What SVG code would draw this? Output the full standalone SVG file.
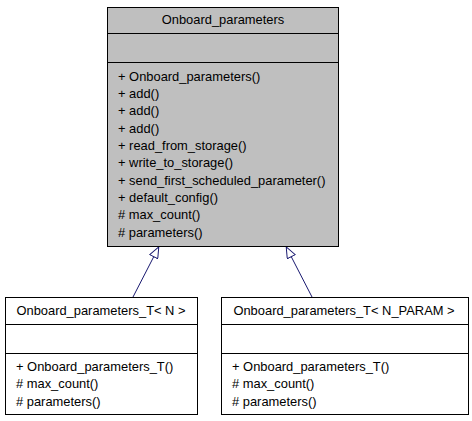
<svg xmlns="http://www.w3.org/2000/svg" width="472" height="421" viewBox="0 0 472 421">
<style>
text{font-family:"Liberation Sans",Arial,Helvetica,sans-serif;font-size:12.9px;fill:#000}
.t{text-anchor:middle}
.box{stroke:#000;stroke-width:1}
.ln{stroke:#000;stroke-width:1}
.edge{stroke:#191970;stroke-width:1;fill:none;marker-end:url(#inh)}
</style>
<defs>
<marker id="inh" viewBox="0 0 12 10" refX="12" refY="5" markerWidth="12" markerHeight="10" orient="auto" markerUnits="userSpaceOnUse">
<path d="M0.5,0.5 L11.5,5 L0.5,9.5 Z" fill="#fff" stroke="#191970" stroke-width="1"/>
</marker>
</defs>
<rect width="472" height="421" fill="#fff"/>
<g id="edges">
<line class="edge" x1="133" y1="297" x2="159" y2="246.5"/>
<line class="edge" x1="312" y1="297" x2="286" y2="246.5"/>
</g>
<g id="Onboard_parameters">
<rect class="box" x="107.5" y="7.5" width="231" height="239" fill="#bfbfbf"/>
<line class="ln" x1="107.5" y1="33.5" x2="338.5" y2="33.5"/>
<line class="ln" x1="107.5" y1="62.5" x2="338.5" y2="62.5"/>
<text class="t" x="223" y="23.5">Onboard_parameters</text>
<text x="118" y="80.5">+ Onboard_parameters()</text>
<text x="118" y="97.8">+ add()</text>
<text x="118" y="115.2">+ add()</text>
<text x="118" y="132.5">+ add()</text>
<text x="118" y="149.8">+ read_from_storage()</text>
<text x="118" y="167.2">+ write_to_storage()</text>
<text x="118" y="184.5">+ send_first_scheduled_parameter()</text>
<text x="118" y="201.8">+ default_config()</text>
<text x="118" y="219.2"># max_count()</text>
<text x="118" y="236.5"># parameters()</text>
</g>
<g id="Onboard_parameters_T_N">
<rect class="box" x="5.5" y="297.5" width="192" height="117" fill="#fff"/>
<line class="ln" x1="5.5" y1="324.5" x2="197.5" y2="324.5"/>
<line class="ln" x1="5.5" y1="353.5" x2="197.5" y2="353.5"/>
<text class="t" x="101" y="314.5">Onboard_parameters_T&lt; N &gt;</text>
<text x="16" y="370.5">+ Onboard_parameters_T()</text>
<text x="16" y="388"># max_count()</text>
<text x="16" y="405.5"># parameters()</text>
</g>
<g id="Onboard_parameters_T_N_PARAM">
<rect class="box" x="221.5" y="297.5" width="247" height="117" fill="#fff"/>
<line class="ln" x1="221.5" y1="324.5" x2="468.5" y2="324.5"/>
<line class="ln" x1="221.5" y1="353.5" x2="468.5" y2="353.5"/>
<text class="t" x="344" y="314.5">Onboard_parameters_T&lt; N_PARAM &gt;</text>
<text x="232" y="370.5">+ Onboard_parameters_T()</text>
<text x="232" y="388"># max_count()</text>
<text x="232" y="405.5"># parameters()</text>
</g>
</svg>
